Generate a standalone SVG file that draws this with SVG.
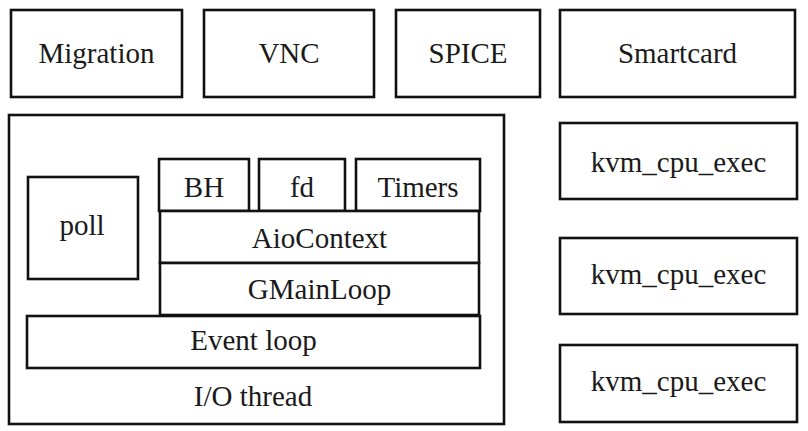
<svg xmlns="http://www.w3.org/2000/svg" width="808" height="431" viewBox="0 0 808 431">
<style>
rect{fill:#fff;stroke:#111;stroke-width:2.6}
text{font-size:29px;fill:#1a1a1a;text-anchor:middle}
</style>
<rect x="0" y="0" width="808" height="431" style="stroke:none"/>
<g font-family="'Liberation Serif', 'Times New Roman', 'DejaVu Serif', serif">
<g id="migration"><rect x="11" y="10" width="171" height="87"/><text x="96.5" y="63">Migration</text></g>
<g id="vnc"><rect x="204" y="10" width="170" height="87"/><text x="289" y="63">VNC</text></g>
<g id="spice"><rect x="396" y="10" width="144" height="87"/><text x="468" y="63">SPICE</text></g>
<g id="smartcard"><rect x="560" y="10" width="235" height="87"/><text x="677.5" y="63">Smartcard</text></g>
<g id="io-thread"><rect x="9" y="115" width="495" height="309"/><text x="253" y="406">I/O thread</text></g>
<g id="poll"><rect x="28" y="177" width="110" height="102"/><text x="82" y="235">poll</text></g>
<g id="bh"><rect x="159" y="159" width="90" height="52"/><text x="204" y="197">BH</text></g>
<g id="fd"><rect x="259" y="159" width="86" height="52"/><text x="302" y="197">fd</text></g>
<g id="timers"><rect x="356" y="159" width="124" height="52"/><text x="418" y="197">Timers</text></g>
<g id="aiocontext"><rect x="160" y="211" width="319" height="52"/><text x="319.5" y="248">AioContext</text></g>
<g id="gmainloop"><rect x="160" y="263" width="319" height="52"/><text x="319.5" y="299">GMainLoop</text></g>
<g id="event-loop"><rect x="27" y="316" width="453" height="52"/><text x="253.5" y="350">Event loop</text></g>
<g id="kvm1"><rect x="560" y="123" width="237" height="76"/><text x="678.5" y="172">kvm_cpu_exec</text></g>
<g id="kvm2"><rect x="560" y="238" width="237" height="76"/><text x="678.5" y="284">kvm_cpu_exec</text></g>
<g id="kvm3"><rect x="560" y="345" width="237" height="77"/><text x="678.5" y="391">kvm_cpu_exec</text></g>
</g>
<g id="connectors"></g>
</svg>
